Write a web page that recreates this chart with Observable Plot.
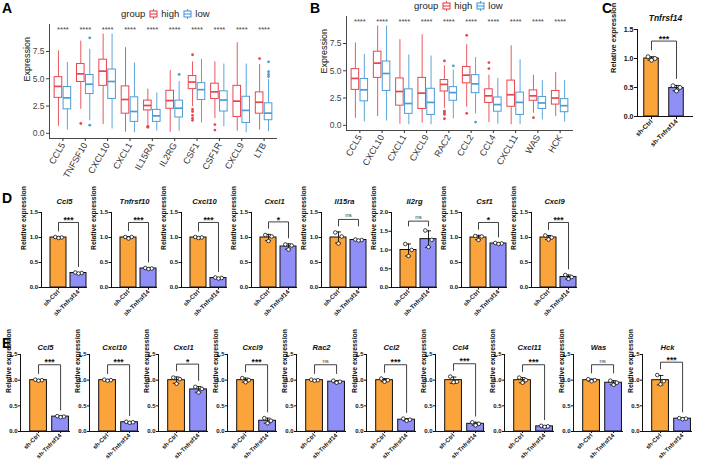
<!DOCTYPE html>
<html>
<head>
<meta charset="utf-8">
<script src="https://cdn.jsdelivr.net/npm/d3@7"></script>
<script src="https://cdn.jsdelivr.net/npm/@observablehq/plot@0.6"></script>
<style>
  body { margin: 0; background: #fff; }
  #fig { position: relative; width: 702px; height: 462px; overflow: hidden; font-family: "Liberation Sans", Arial, sans-serif; background: #fff; }
  .letter { position: absolute; font-weight: bold; font-size: 14px; line-height: 14px; color: #000; }
  .legend { position: absolute; display: flex; align-items: center; font-size: 9.5px; line-height: 11px; color: #222; white-space: nowrap; }
  .legend svg { margin: 0 3px 0 4px; }
</style>
</head>
<body>
<div id="fig"></div>
<script>
// ---- Panel A: expression by risk group (box summaries: lo whisker, Q1, median, Q3, hi whisker)
const genesA = ["CCL5", "TNFSF10", "CXCL10", "CXCL1", "IL15RA", "IL2RG", "CSF1", "CSF1R", "CXCL9", "LTB"];
const highA = [
  [0.65, 3.25, 4.3, 5.15, 7.55],
  [2.2, 4.7, 5.45, 6.35, 8.45],
  [0.8, 4.35, 5.7, 6.75, 9.1],
  [0.1, 1.8, 3.1, 4.3, 7.85],
  [0.75, 2.1, 2.55, 3.0, 4.05],
  [0.1, 2.25, 3.0, 3.9, 5.75],
  [2.45, 4.05, 4.7, 5.25, 6.55],
  [1.35, 3.15, 3.8, 4.55, 6.55],
  [0.2, 1.5, 2.95, 4.35, 8.3],
  [0.3, 1.8, 2.85, 3.75, 6.3]
];
const highOutA = [[], [0.9], [], [], [0.55, 0.65], [], [7.2, 2.2, 2.0, 1.65, 1.4, 1.2], [0.8, 0.3], [], [6.85]];
const lowA = [
  [0.3, 2.2, 3.25, 4.25, 6.5],
  [1.15, 3.6, 4.5, 5.35, 7.7],
  [0.4, 3.15, 4.75, 5.85, 9.1],
  [0.05, 1.05, 2.0, 3.3, 6.45],
  [0.2, 1.05, 1.6, 2.15, 3.7],
  [0.2, 1.45, 2.3, 3.0, 4.75],
  [0.95, 3.05, 4.0, 4.6, 6.8],
  [0.6, 2.0, 3.05, 3.85, 6.35],
  [0.05, 0.95, 2.1, 3.35, 6.35],
  [0.15, 1.2, 1.85, 2.75, 4.95]
];
const lowOutA = [[], [0.75, 8.75], [], [], [], [5.4], [], [], [], [5.2, 5.4, 5.65, 6.55]];
const sigA = ["****", "****", "****", "****", "****", "****", "****", "****", "****", "****"];

// ---- Panel B
const genesB = ["CCL5", "CXCL10", "CXCL1", "CXCL9", "RAC2", "CCL2", "CCL4", "CXCL11", "WAS", "HCK"];
const highB = [
  [0.65, 3.25, 4.3, 5.15, 7.55],
  [0.8, 4.35, 5.7, 6.75, 9.1],
  [0.1, 1.8, 3.1, 4.3, 7.85],
  [0.2, 1.5, 2.95, 4.35, 8.3],
  [1.55, 3.1, 3.75, 4.15, 5.45],
  [1.65, 3.85, 4.6, 5.35, 7.4],
  [0.25, 2.05, 2.7, 3.3, 4.6],
  [0.05, 1.7, 2.8, 4.1, 7.3],
  [1.1, 2.25, 2.7, 3.2, 4.6],
  [0.8, 1.9, 2.5, 3.15, 4.85]
];
const highOutB = [[], [], [], [], [5.9, 1.3, 1.15, 1.0, 0.6], [8.25, 1.1], [5.2, 5.75], [], [0.7], []];
const lowB = [
  [0.3, 2.2, 3.25, 4.25, 6.5],
  [0.4, 3.15, 4.75, 5.85, 9.1],
  [0.05, 1.05, 2.0, 3.3, 6.45],
  [0.05, 0.95, 2.1, 3.35, 6.35],
  [0.6, 2.25, 3.0, 3.5, 5.05],
  [1.05, 2.95, 3.8, 4.6, 6.2],
  [0.1, 1.25, 1.9, 2.55, 4.3],
  [0.05, 0.95, 2.1, 3.0, 6.0],
  [0.5, 1.5, 2.05, 2.6, 4.1],
  [0.3, 1.2, 1.8, 2.4, 4.1]
];
const lowOutB = [[], [], [], [], [5.45], [0.3], [], [], [], []];
const sigB = ["****", "****", "****", "****", "****", "****", "****", "****", "****", "****"];

// ---- qPCR groups and replicates (relative expression)
const groups = ["sh-Ctrl", "sh-Tnfrsf14"];

const geneC = "Tnfrsf14";
const ctrlC = [0.97, 1.0, 1.03];
const shC = [0.44, 0.50, 0.53];
const sigC = "***";

const genesD = ["Ccl5", "Tnfrsf10", "Cxcl10", "Cxcl1", "Il15ra", "Il2rg", "Csf1", "Cxcl9"];
const ctrlD = [
  [0.99, 1.0, 1.01], [0.98, 1.01, 1.01], [0.99, 1.0, 1.01], [0.93, 1.02, 1.05],
  [0.88, 1.02, 1.10], [0.84, 1.0, 1.16], [0.95, 1.02, 1.03], [0.96, 1.0, 1.04]
];
const shD = [
  [0.28, 0.29, 0.30], [0.37, 0.38, 0.39], [0.18, 0.19, 0.20], [0.76, 0.84, 0.86],
  [0.94, 0.95, 0.96], [1.08, 1.27, 1.52], [0.87, 0.88, 0.89], [0.17, 0.21, 0.25]
];
const sigD = ["***", "***", "***", "*", "ns", "ns", "*", "***"];

const genesE = ["Ccl5", "Cxcl10", "Cxcl1", "Cxcl9", "Rac2", "Ccl2", "Ccl4", "Cxcl11", "Was", "Hck"];
const ctrlE = [
  [0.99, 1.0, 1.01], [0.99, 1.0, 1.01], [0.93, 1.02, 1.05], [0.96, 1.0, 1.04], [0.99, 1.0, 1.01],
  [0.97, 1.0, 1.03], [0.96, 0.97, 1.07], [0.95, 1.0, 1.05], [0.98, 1.0, 1.02], [0.92, 0.98, 1.10]
];
const shE = [
  [0.28, 0.29, 0.30], [0.17, 0.18, 0.19], [0.76, 0.83, 0.87], [0.16, 0.21, 0.26], [0.95, 0.97, 0.99],
  [0.21, 0.23, 0.25], [0.12, 0.15, 0.18], [0.09, 0.10, 0.11], [0.91, 0.95, 0.99], [0.24, 0.25, 0.26]
];
const sigE = ["***", "***", "*", "***", "ns", "***", "***", "***", "ns", "***"];

// ---- styling
const RED = "#E8464F", BLUE = "#4B9CD6";
const ORANGE = "#FBA43B", PURPLE = "#8F8FF7";
const FONT = "'Liberation Sans', Arial, sans-serif";
const fig = document.getElementById("fig");

function place(node, left, top) {
  node.style.position = "absolute";
  node.style.left = left + "px";
  node.style.top = top + "px";
  fig.appendChild(node);
}

function letter(t, left, top) {
  const d = document.createElement("div");
  d.className = "letter";
  d.textContent = t;
  place(d, left, top);
}

function keyIcon(color) {
  return `<svg width="9" height="10" viewBox="0 0 9 10"><line x1="4.5" x2="4.5" y1="0" y2="10" stroke="${color}" stroke-width="1"/>` +
    `<rect x="1" y="2" width="7" height="6" fill="white" stroke="${color}" stroke-width="1.1"/>` +
    `<line x1="1" x2="8" y1="5" y2="5" stroke="${color}" stroke-width="1.1"/></svg>`;
}

function legend(left, top) {
  const d = document.createElement("div");
  d.className = "legend";
  d.innerHTML = `<span>group</span>${keyIcon(RED)}<span>high</span>${keyIcon(BLUE)}<span>low</span>`;
  place(d, left, top);
}

// Box-and-whisker panel drawn from summary statistics
function boxPanel(o) {
  const n = o.genes.length;
  const rows = [], outs = [];
  o.genes.forEach((g, i) => {
    [["high", o.high[i], o.highOut[i], -0.2], ["low", o.low[i], o.lowOut[i], 0.2]].forEach(([grp, s, ol, off]) => {
      const x = i + off;
      rows.push({grp, x, lo: s[0], q1: s[1], med: s[2], q3: s[3], hi: s[4]});
      ol.forEach(v => outs.push({grp, x, v}));
    });
  });
  const HW = 0.17;
  const yDom = [-0.475, 9.975];
  const xDom = [-0.6, n - 0.4];
  const sigY = 9.5;
  return Plot.plot({
    width: o.width, height: o.height,
    marginLeft: o.marginLeft, marginRight: o.marginRight, marginTop: o.marginTop, marginBottom: o.marginBottom,
    style: {background: "transparent", fontFamily: FONT, overflow: "visible"},
    x: {domain: xDom},
    y: {domain: yDom},
    color: {domain: ["high", "low"], range: [RED, BLUE]},
    marks: [
      Plot.ruleX(rows, {x: "x", y1: "lo", y2: "q1", stroke: "grp", strokeWidth: 0.9}),
      Plot.ruleX(rows, {x: "x", y1: "q3", y2: "hi", stroke: "grp", strokeWidth: 0.9}),
      Plot.rect(rows, {x1: d => d.x - HW, x2: d => d.x + HW, y1: "q1", y2: "q3", fill: "white", stroke: "grp", strokeWidth: 1}),
      Plot.ruleY(rows, {x1: d => d.x - HW, x2: d => d.x + HW, y: "med", stroke: "grp", strokeWidth: 1.7}),
      Plot.dot(outs, {x: "x", y: "v", fill: "grp", r: 1.4}),
      Plot.text(o.genes, {x: (d, i) => i, y: () => sigY, text: (d, i) => o.sig[i], fontSize: 7.5, fill: "#444"}),
      Plot.ruleX([xDom[0]], {y1: () => yDom[0], y2: () => yDom[1], stroke: "#333", strokeWidth: 0.9}),
      Plot.ruleY([yDom[0]], {x1: () => xDom[0], x2: () => xDom[1], stroke: "#333", strokeWidth: 0.9}),
      Plot.axisY({ticks: [0, 2.5, 5, 7.5], tickFormat: d3.format(".1f"), tickSize: 3, tickPadding: 2, fontSize: 8.5,
        color: "#444", label: null}),
      Plot.text(["Expression"], {frameAnchor: "left", dx: -o.labelGap, rotate: -90, text: d => d, fontSize: 9, fill: "#111"}),
      Plot.axisX({ticks: d3.range(n), tickFormat: i => o.genes[i], tickRotate: -60, tickSize: 3, tickPadding: 2,
        fontSize: 9, color: "#333", label: null})
    ]
  });
}

// Bar + SD + replicate panel with a pairwise comparison bracket
function barPanel(o) {
  const sets = [o.ctrl, o.sh];
  const stats = sets.map((v, i) => {
    const m = d3.mean(v), s = d3.deviation(v);
    return {i, mean: m, lo: m - s, hi: m + s, top: Math.max(m + s, d3.max(v))};
  });
  const spread = [-1, 1, 0];
  const pts = sets.flatMap((v, i) => {
    const order = d3.range(v.length).sort((a, b) => v[b] - v[a]);
    return order.map((k, r) => ({i, y: v[k], r}));
  });
  const peak = d3.max(stats, d => d.top);
  const yMax = Math.ceil((peak + 0.35) / 0.5) * 0.5;
  const level = Math.max(yMax * 0.867, peak + 0.25);
  const ns = o.sig === "ns";
  const armL = (ns ? peak : stats[0].top) + 0.12;
  const armR = (ns ? peak : stats[1].top) + 0.12;
  const bracket = [{x: 0, y: armL}, {x: 0, y: level}, {x: 1, y: level}, {x: 1, y: armR}];
  const xDom = [-o.padL, 1 + o.padR];
  const hw = o.hw, cap = o.cap;
  return Plot.plot({
    width: o.width, height: o.height,
    marginLeft: o.marginLeft, marginRight: o.marginRight, marginTop: o.marginTop, marginBottom: o.marginBottom,
    style: {background: "transparent", fontFamily: FONT, overflow: "visible", color: "#111"},
    x: {domain: xDom},
    y: {domain: [0, yMax]},
    marks: [
      Plot.rectY([stats[0]], {x1: d => d.i - hw, x2: d => d.i + hw, y1: () => 0, y2: "mean", fill: ORANGE, stroke: "#111", strokeWidth: 1}),
      Plot.rectY([stats[1]], {x1: d => d.i - hw, x2: d => d.i + hw, y1: () => 0, y2: "mean", fill: PURPLE, stroke: "#111", strokeWidth: 1}),
      Plot.ruleX(stats, {x: "i", y1: "lo", y2: "hi", stroke: "#111", strokeWidth: 0.9}),
      Plot.ruleY(stats, {y: "hi", x1: d => d.i - cap, x2: d => d.i + cap, stroke: "#111", strokeWidth: 0.9}),
      Plot.ruleY(stats, {y: "lo", x1: d => d.i - cap, x2: d => d.i + cap, stroke: "#111", strokeWidth: 0.9}),
      Plot.dot(pts, {x: d => d.i + spread[d.r] * o.jit, y: "y", r: o.r, fill: "white", stroke: "#111", strokeWidth: 0.8}),
      Plot.line(bracket, {x: "x", y: "y", stroke: "#111", strokeWidth: 0.8}),
      Plot.text([o.sig], {x: () => 0.5, y: () => level, text: d => d, dy: ns ? -4 : -2,
        fontSize: ns ? o.fs : o.fss, fontWeight: ns ? "normal" : "bold", fill: ns ? "#333" : "#111"}),
      Plot.text([o.name], {frameAnchor: "top", dy: -o.titleGap, text: d => d, fontSize: o.fst, fontWeight: "bold", fontStyle: "italic", fill: "#111"}),
      Plot.ruleX([xDom[0]], {y1: () => 0, y2: () => yMax, stroke: "#111", strokeWidth: 1}),
      Plot.ruleY([0], {x1: () => xDom[0], x2: () => xDom[1], stroke: "#111", strokeWidth: 1}),
      Plot.axisY({ticks: d3.range(0, yMax + 0.01, 0.5), tickFormat: d3.format(".1f"), tickSize: o.tick, tickPadding: 1,
        fontSize: o.fs, fontWeight: "bold", label: null}),
      Plot.text(["Relative expression"], {frameAnchor: "left", dx: -o.labelGap, rotate: -90, text: d => d,
        fontSize: o.fsl, fontWeight: "bold", fill: "#111"}),
      Plot.axisX({ticks: [0, 1], tickFormat: i => groups[i], tickRotate: -45, tickSize: o.tick, tickPadding: 1,
        fontSize: o.fsx, fontWeight: "bold", label: null})
    ]
  });
}

// ---- Panels A and B
letter("A", 2, 1);
legend(121, 8);
place(boxPanel({genes: genesA, high: highA, highOut: highOutA, low: lowA, lowOut: lowOutA, sig: sigA,
  width: 281, height: 200, marginLeft: 49, marginRight: 4, marginTop: 24, marginBottom: 62, labelGap: 22}), 0, 0);

letter("B", 310, 1);
legend(414, 0);
place(boxPanel({genes: genesB, high: highB, highOut: highOutB, low: lowB, lowOut: lowOutB, sig: sigB,
  width: 279, height: 200, marginLeft: 49, marginRight: 3, marginTop: 16, marginBottom: 70, labelGap: 22}), 297, 0);

// ---- Panel C
letter("C", 602, 1);
place(barPanel({name: geneC, ctrl: ctrlC, sh: shC, sig: sigC,
  width: 100, height: 156, marginLeft: 40, marginRight: 4, marginTop: 29, marginBottom: 40,
  padL: 0.56, padR: 0.68, hw: 0.29, cap: 0.14, jit: 0.14, r: 2,
  fs: 7, fsx: 6.5, fst: 8.5, fsl: 7.5, fss: 9, tick: 3, labelGap: 24, titleGap: 15}), 597, 0);

// ---- Panel D
letter("D", 2, 191);
genesD.forEach((g, i) => {
  const axis = 41 + 70 * i;
  place(barPanel({name: g, ctrl: ctrlD[i], sh: shD[i], sig: sigD[i],
    width: 88, height: 139, marginLeft: 36, marginRight: 6, marginTop: 26, marginBottom: 38,
    padL: 0.85, padR: 0.45, hw: 0.4, cap: 0.15, jit: 0.16, r: 1.8,
    fs: 6, fsx: 6.2, fst: 7.6, fsl: 6.8, fss: 8.5, tick: 2.5, labelGap: 18, titleGap: 14}), axis - 36, 186);
});

// ---- Panel E
letter("E", 2, 336);
genesE.forEach((g, i) => {
  const axis = 20 + 69.1 * i;
  place(barPanel({name: g, ctrl: ctrlE[i], sh: shE[i], sig: sigE[i],
    width: 73, height: 126, marginLeft: 20, marginRight: 3, marginTop: 18, marginBottom: 31,
    padL: 0.82, padR: 0.45, hw: 0.38, cap: 0.15, jit: 0.15, r: 1.8,
    fs: 6, fsx: 6, fst: 7.6, fsl: 6.8, fss: 8.5, tick: 2, labelGap: 12, titleGap: 10}), axis - 20, 336);
});
</script>
</body>
</html>
